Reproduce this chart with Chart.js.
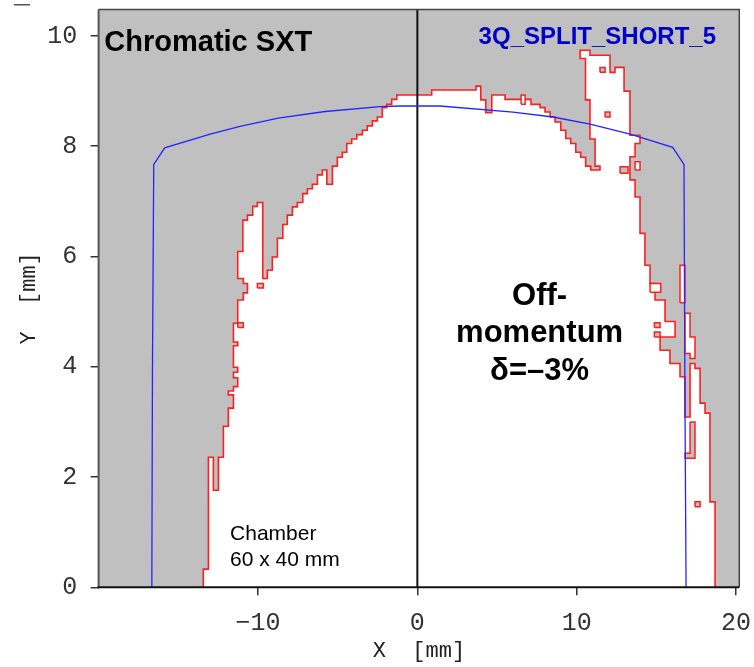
<!DOCTYPE html>
<html><head><meta charset="utf-8">
<script src="https://cdn.jsdelivr.net/npm/chart.js@4.4.1/dist/chart.umd.min.js"></script>
<style>html,body{margin:0;padding:0;background:#fff;}</style>
</head><body>
<canvas id="c" width="754" height="667"></canvas>
<script>
// ---- axis ranges and tick labels ----
const xRange = [-20, 20.2];
const yRange = [0, 10.48];
const xTicks = [-10, 0, 10, 20];
const yTicks = [0, 2, 4, 6, 8, 10];

// ---- physical (chamber) aperture, blue ----
const apertureX = [-16.66,-16.62,-16.54,-15.85,-13.0,-11.13,-8.72,-5.79,-2.34,-1.09,1.42,6.0,8.51,10.84,13.35,16.02,16.73,16.79,16.86];
const apertureY = [0,4.0,7.67,7.97,8.22,8.36,8.51,8.63,8.72,8.73,8.73,8.62,8.53,8.40,8.22,7.98,7.67,3.40,0];

// ---- dynamic aperture boundary (red), [x, y] in mm ----
const daBoundary = [
[-13.43,0],[-13.43,0.33],[-13.11,0.33],[-13.11,2.36],[-12.80,2.36],[-12.80,1.76],[-12.48,1.76],[-12.48,2.36],[-12.17,2.36],[-12.17,2.92],[-11.86,2.92],[-11.86,3.25],[-11.54,3.25],[-11.54,3.49],[-11.86,3.49],[-11.86,3.56],[-11.54,3.56],[-11.54,3.64],[-11.27,3.64],[-11.27,3.80],[-11.54,3.80],[-11.54,3.90],[-11.27,3.90],[-11.27,3.99],[-11.54,3.99],[-11.54,4.38],[-11.27,4.38],[-11.27,4.45],[-11.54,4.45],[-11.54,4.79],[-11.27,4.79],[-11.27,5.21],[-10.92,5.21],[-10.92,5.34],[-10.66,5.34],[-10.66,5.51],[-10.92,5.51],[-10.92,5.60],[-11.27,5.60],[-11.27,6.09],[-10.95,6.09],[-10.95,6.66],[-10.66,6.66],[-10.66,6.75],[-10.33,6.75],[-10.33,6.91],[-10.04,6.91],[-10.04,6.98],[-9.70,6.98],[-9.70,5.60],[-9.41,5.60],[-9.41,5.75],[-9.10,5.75],[-9.10,5.99],[-8.78,5.99],[-8.78,6.33],[-8.44,6.33],[-8.44,6.58],[-8.16,6.58],[-8.16,6.75],[-7.84,6.75],[-7.84,6.90],[-7.53,6.90],[-7.53,6.98],[-7.19,6.98],[-7.19,7.14],[-6.90,7.14],[-6.90,7.23],[-6.59,7.23],[-6.59,7.31],[-6.27,7.31],[-6.27,7.48],[-5.96,7.48],[-5.96,7.57],[-5.68,7.57],[-5.68,7.31],[-5.33,7.31],[-5.33,7.64],[-5.02,7.64],[-5.02,7.80],[-4.71,7.80],[-4.71,7.89],[-4.43,7.89],[-4.43,8.05],[-4.12,8.05],[-4.12,8.13],[-3.80,8.13],[-3.80,8.21],[-3.45,8.21],[-3.45,8.29],[-3.14,8.29],[-3.14,8.37],[-2.82,8.37],[-2.82,8.46],[-2.51,8.46],[-2.51,8.53],[-2.20,8.53],[-2.20,8.70],[-1.92,8.70],[-1.92,8.76],[-1.61,8.76],[-1.61,8.85],[-1.29,8.85],[-1.29,8.93],
[0.90,8.93],[0.90,9.02],[3.68,9.02],[3.68,9.09],[3.98,9.09],[3.98,8.84],[4.29,8.84],[4.29,8.61],[4.67,8.61],[4.67,8.93],[5.50,8.93],[5.50,8.85],[7.13,8.85],[7.13,8.76],[7.70,8.76],[7.70,8.70],[8.01,8.70],[8.01,8.62],[8.33,8.62],[8.33,8.53],[8.64,8.53],[8.64,8.44],[9.00,8.44],[9.00,8.29],[9.31,8.29],[9.31,8.14],[9.62,8.14],[9.62,8.05],[9.94,8.05],[9.94,7.89],[10.25,7.89],[10.25,7.80],[10.56,7.80],[10.56,7.64],[10.88,7.64],[10.88,7.57],[11.46,7.57],[11.46,7.64],[11.15,7.64],[11.15,8.13],[10.83,8.13],[10.83,8.84],[10.55,8.84],[10.55,9.59],[10.21,9.59],[10.21,9.74],[10.83,9.74],[10.83,9.65],[12.09,9.65],[12.09,9.34],[12.40,9.34],[12.40,9.43],[12.97,9.43],[12.97,9.00],[13.34,9.00],[13.34,8.20],[13.97,8.20],[13.97,8.05],[13.66,8.05],[13.66,7.81],[13.34,7.81],[13.34,7.39],[13.66,7.39],[13.66,7.08],[13.97,7.08],[13.97,6.42],[14.28,6.42],[14.28,5.84],[14.60,5.84],[14.60,5.51],[14.91,5.51],[14.91,5.21],[15.54,5.21],[15.54,4.82],[16.17,4.82],[16.17,4.54],[15.23,4.54],[15.23,4.30],[15.85,4.30],[15.85,4.06],[16.48,4.06],[16.48,3.82],[16.79,3.82],[16.79,3.09],[17.11,3.09],[17.11,4.06],[17.42,4.06],[17.42,3.97],[17.74,3.97],[17.74,3.34],[18.05,3.34],[18.05,3.16],[18.36,3.16],[18.36,1.55],[18.68,1.55],[18.68,0]
];

// lost cells inside the stable region: [x0, x1, y0, y1]
const lostCells = [
[-10.04,-9.66,5.43,5.51],[-11.27,-10.92,4.71,4.80],[11.46,11.78,9.34,9.43],[11.78,12.09,8.53,8.62],
[12.72,13.22,7.51,7.63],[14.87,15.23,4.71,4.80],[14.87,15.23,4.54,4.63],[17.42,17.74,1.46,1.55]
];
const lostPatch = [[17.11,3.00],[17.42,3.00],[17.42,2.34],[16.79,2.34],[16.79,2.43],[17.11,2.43],[17.11,3.00]];

// isolated stable cells: [x0, x1, y0, y1]
const stableCells = [
[6.51,6.76,8.76,8.93],[14.60,15.27,5.35,5.51],[16.48,16.79,5.16,5.84],[13.66,13.97,7.57,7.72]
];
const stablePatch = [[16.79,4.97],[17.11,4.97],[17.11,4.54],[17.42,4.54],[17.42,4.15],[17.11,4.15],[17.11,4.24],[16.79,4.24],[16.79,4.97]];

// ---- build datasets ----
const pts = a => a.map(p => ({x: p[0], y: p[1]}));
const rect = r => [{x:r[0],y:r[2]},{x:r[1],y:r[2]},{x:r[1],y:r[3]},{x:r[0],y:r[3]},{x:r[0],y:r[2]}];
const RED = 'rgba(255,20,20,0.95)';
const datasets = [];
datasets.push({data: apertureX.map((x,i)=>({x, y: apertureY[i]})), borderColor:'#2424ff', borderWidth:1.3, fill:false, order:0});
datasets.push({data:[{x:0,y:yRange[0]},{x:0,y:yRange[1]}], borderColor:'#111', borderWidth:2, fill:false, order:1});
lostCells.forEach(r => datasets.push({data: rect(r), borderColor:RED, borderWidth:1.5, fill:'shape', backgroundColor:'#c0c0c0', order:2}));
datasets.push({data: pts(lostPatch), borderColor:RED, borderWidth:1.5, fill:'shape', backgroundColor:'#c0c0c0', order:2});
stableCells.forEach(r => datasets.push({data: rect(r), borderColor:RED, borderWidth:1.5, fill:'shape', backgroundColor:'#ffffff', order:3}));
datasets.push({data: pts(stablePatch), borderColor:RED, borderWidth:1.5, fill:'shape', backgroundColor:'#ffffff', order:3});
datasets.push({data: pts(daBoundary), borderColor:RED, borderWidth:1.6, fill:'shape', backgroundColor:'#ffffff', order:10});

const deco = {
  id: 'deco',
  beforeDatasetsDraw(chart) {
    const {ctx, chartArea: a} = chart;
    ctx.save(); ctx.fillStyle = '#c0c0c0';
    ctx.fillRect(a.left, a.top, a.right - a.left, a.bottom - a.top);
    ctx.restore();
  },
  afterDraw(chart) {
    const {ctx, chartArea: a, scales: {x, y}} = chart;
    ctx.save();
    // frame
    ctx.strokeStyle = '#444'; ctx.lineWidth = 1.5;
    ctx.beginPath(); ctx.moveTo(a.left, a.top); ctx.lineTo(a.right, a.top); ctx.lineTo(a.right, a.bottom); ctx.stroke();
    ctx.strokeStyle = '#555'; ctx.lineWidth = 2;
    ctx.beginPath(); ctx.moveTo(a.left, a.top); ctx.lineTo(a.left, a.bottom); ctx.stroke();
    ctx.strokeStyle = '#111'; ctx.lineWidth = 2;
    ctx.beginPath(); ctx.moveTo(a.left - 1, a.bottom); ctx.lineTo(a.right, a.bottom); ctx.stroke();
    ctx.fillStyle = '#555'; ctx.fillRect(14, 4, 16, 1.5);
    // annotations
    ctx.textBaseline = 'alphabetic';
    ctx.fillStyle = '#000';
    ctx.font = 'bold 29px "Liberation Sans", Arial, sans-serif';
    ctx.textAlign = 'left';
    ctx.fillText('Chromatic SXT', x.getPixelForValue(-19.64), y.getPixelForValue(9.73));
    ctx.fillStyle = '#0000c8';
    ctx.font = 'bold 24px "Liberation Sans", Arial, sans-serif';
    ctx.textAlign = 'right';
    ctx.fillText('3Q_SPLIT_SHORT_5', x.getPixelForValue(18.74), y.getPixelForValue(9.855));
    ctx.fillStyle = '#000';
    ctx.font = 'bold 31px "Liberation Sans", Arial, sans-serif';
    ctx.textAlign = 'center';
    const cx = x.getPixelForValue(7.67);
    ctx.fillText('Off-', cx, y.getPixelForValue(5.12));
    ctx.fillText('momentum', cx, y.getPixelForValue(4.45));
    ctx.fillText('\u03b4=\u20133%', cx, y.getPixelForValue(3.76));
    ctx.font = '21px "Liberation Sans", Arial, sans-serif';
    ctx.textAlign = 'left';
    ctx.fillText('Chamber', x.getPixelForValue(-11.75), y.getPixelForValue(0.858));
    ctx.fillText('60 x 40 mm', x.getPixelForValue(-11.75), y.getPixelForValue(0.39));
    ctx.restore();
  }
};

const mono = '"Liberation Mono", "Courier New", monospace';
new Chart(document.getElementById('c'), {
  type: 'line',
  data: {datasets},
  plugins: [deco],
  options: {
    responsive: false, animation: false, devicePixelRatio: 1,
    layout: {padding: {left: 15.8, right: 14.7, top: 9.5, bottom: 2.3}},
    plugins: {legend: {display: false}, tooltip: {enabled: false}},
    elements: {point: {radius: 0, hoverRadius: 0}, line: {tension: 0}},
    scales: {
      x: {
        type: 'linear', min: xRange[0], max: xRange[1],
        afterBuildTicks: s => { s.ticks = xTicks.map(v => ({value: v})); },
        afterFit: s => { s.paddingLeft = 0; s.paddingRight = 0; s.height = 77.4; },
        ticks: {callback: v => (v < 0 ? '\u2212' + Math.abs(v) : String(v)), font: {family: mono, size: 25}, color: '#333', padding: 13, maxRotation: 0, autoSkip: false},
        grid: {display: true, drawOnChartArea: false, drawTicks: true, tickLength: 8, color: '#333', lineWidth: 1.5},
        border: {display: false},
        title: {display: true, text: 'X  [mm]', font: {family: mono, size: 22}, color: '#222', padding: {top: 0, bottom: 0}}
      },
      y: {
        type: 'linear', min: yRange[0], max: yRange[1],
        afterBuildTicks: s => { s.ticks = yTicks.map(v => ({value: v})); },
        afterFit: s => { s.paddingTop = 0; s.paddingBottom = 0; s.width = 82.8; },
        ticks: {callback: v => String(v), font: {family: mono, size: 25}, color: '#333', padding: 13.4, autoSkip: false},
        grid: {display: true, drawOnChartArea: false, drawTicks: true, tickLength: 8, color: '#333', lineWidth: 1.5},
        border: {display: false},
        title: {display: true, text: 'Y  [mm]', font: {family: mono, size: 22}, color: '#222', padding: {top: 0, bottom: 5}}
      }
    }
  }
});
</script>
</body></html>
